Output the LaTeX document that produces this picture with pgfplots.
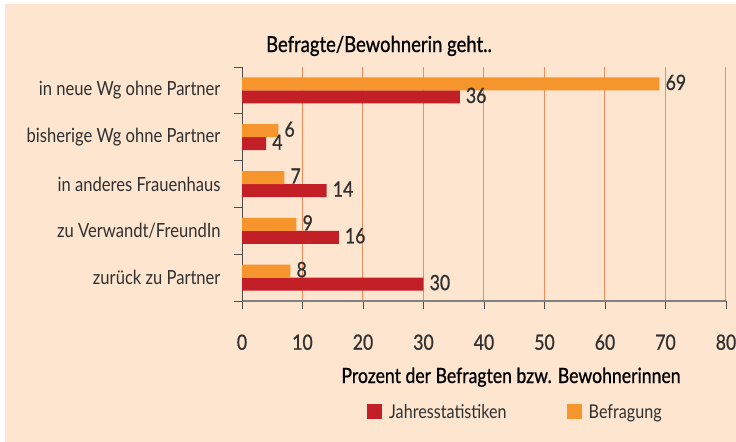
\documentclass[border=0pt]{standalone}
\usepackage{pgfplots}
\pgfplotsset{compat=1.18}
\usepackage{fontspec}
\setmainfont{Lato}[FakeStretch=0.85]
\newfontfamily\heavy{Lato}[FakeStretch=0.84, FakeBold=0.8]
\definecolor{peach}{HTML}{FDE5CF}
\definecolor{barorange}{HTML}{F7952D}
\definecolor{barred}{HTML}{C21F26}
\definecolor{gridorange}{HTML}{F4895A}
\definecolor{txtgray}{HTML}{303030}
\begin{document}
\begin{tikzpicture}
\fill[white] (0,0) rectangle (736bp,-442bp);
\fill[peach] (5bp,-4bp) rectangle (736bp,-442bp);
\useasboundingbox (0,0) rectangle (736bp,-442bp);
\begin{axis}[
  /pgf/number format/assume math mode=true,
  at={(242bp,-301bp)}, anchor=south west,
  scale only axis, width=484bp, height=234bp,
  xbar, bar width=13bp,
  xmin=0, xmax=80, ymin=-0.5, ymax=4.5,
  axis x line*=bottom, axis y line*=left,
  x axis line style={draw=black!50, line width=2bp, -},
  y axis line style={draw=black!70, line width=1bp, -},
  xtick={0,10,...,80},
  tick align=outside,
  major tick length=8bp,
  xtick style={draw=black!70, line width=0.8bp},
  ytick style={draw=black!70, line width=0.8bp},
  xmajorgrids,
  grid style={draw=gridorange, line width=1bp},
  xticklabel style={font=\heavy\fontsize{21bp}{24bp}\selectfont, text=txtgray, yshift=-22bp},
  ytick={-0.5,0.5,1.5,2.5,3.5,4.5},
  y tick label as interval,
  yticklabels={zurück zu Partner, zu Verwandt/FreundIn, in anderes Frauenhaus, bisherige Wg ohne Partner, in neue Wg ohne Partner},
  yticklabel style={font=\fontsize{19.5bp}{22bp}\selectfont, text=txtgray, xshift=-10bp},
  nodes near coords,
  every node near coord/.append style={font=\heavy\fontsize{21bp}{24bp}\selectfont, text=txtgray, anchor=west, inner sep=0pt, xshift=6bp, yshift=1.5bp},
  legend columns=2,
  legend style={at={(0.565,-0.474)}, anchor=center, draw=none, fill=none, font=\fontsize{19bp}{23bp}\selectfont, text=txtgray, /tikz/every even column/.append style={column sep=58bp}},
  legend image code/.code={\fill[#1] (0bp,-7.5bp) rectangle (15bp,7.5bp); \path (20bp,0bp);},
]
\addplot[fill=barred, draw=none, bar shift=-6.5bp] coordinates {(30,0) (16,1) (14,2) (4,3) (36,4)};
\addlegendentry{Jahresstatistiken}
\addplot[fill=barorange, draw=none, bar shift=6.5bp] coordinates {(8,0) (9,1) (7,2) (6,3) (69,4)};
\addlegendentry{Befragung}
\end{axis}
\node[anchor=base, font=\heavy\fontsize{22bp}{25bp}\selectfont] at (379bp,-52bp) {Befragte/Bewohnerin geht..};
\node[anchor=base, font=\heavy\fontsize{21bp}{25bp}\selectfont] at (511bp,-383bp) {Prozent der Befragten bzw. Bewohnerinnen};
\end{tikzpicture}
\end{document}
